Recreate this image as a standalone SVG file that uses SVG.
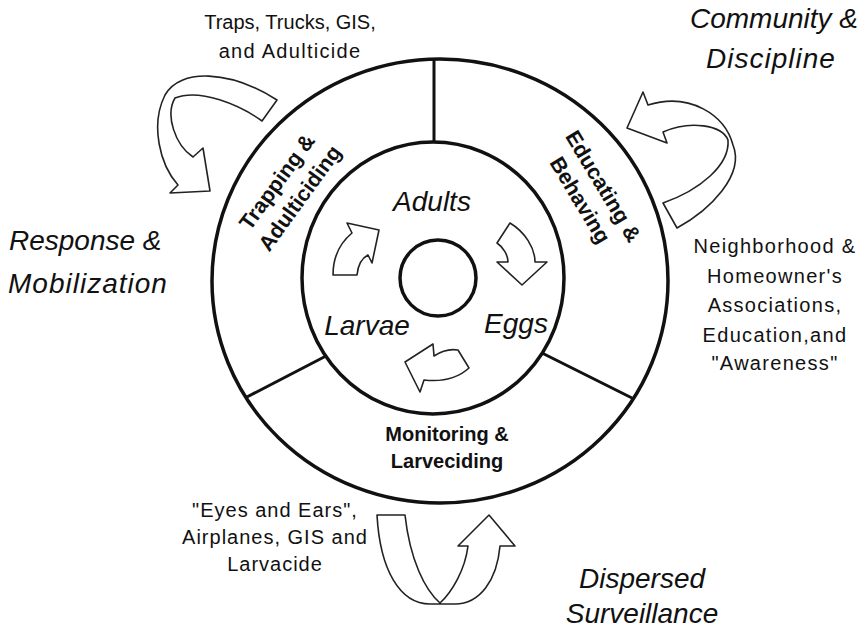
<svg xmlns="http://www.w3.org/2000/svg" width="865" height="629" viewBox="0 0 865 629">
<style>
.ring{fill:none;stroke:#111;stroke-width:3.5}
.div{stroke:#111;stroke-width:3}
.arr{fill:#fff;stroke:#222;stroke-width:1.6;stroke-linejoin:round}
.lbl{font-family:"Liberation Sans",Arial,sans-serif;font-size:20px;font-weight:bold;fill:#111;text-anchor:middle}
.rot{font-size:21.5px}
.stage{font-family:"Liberation Sans",Arial,sans-serif;font-size:28px;font-style:italic;fill:#111;text-anchor:middle}
.big{font-family:"Liberation Sans",Arial,sans-serif;font-size:28px;font-style:italic;fill:#111}
.note{font-family:"Liberation Sans",Arial,sans-serif;font-size:20px;fill:#111;text-anchor:middle;letter-spacing:1.3px}
</style>
<rect width="865" height="629" fill="#fff"/>
<g id="wheel">
<ellipse class="ring" cx="440" cy="281" rx="228" ry="222"/>
<ellipse class="ring" cx="433" cy="278" rx="131" ry="136"/>
<circle class="ring" cx="438" cy="278" r="38"/>
</g>
<g id="connectors">
<line class="div" x1="434" y1="59" x2="434" y2="142"/>
<line class="div" x1="245" y1="398" x2="326" y2="356"/>
<line class="div" x1="632" y1="398" x2="542" y2="353"/>
<path class="arr" d="M333,275 L357,275 C358,265 362,258 368,255 L372,263 L379,230 L347,223 L352,233 C340,243 333,258 333,275 Z"/>
<path class="arr" d="M510,223 C525,232 535,248 535,262 L547,262 L522,285 L497,262 L508,262 C508,255 503,247 497,243 Z"/>
<path class="arr" d="M405,362 L433,344 L434,356 C443,350 452,349 458,350 L469,368 C458,378 442,382 424,380 L420,392 Z"/>
<path class="arr" d="M277,100 L262,121 C240,105 200,88 175,98 C165,115 175,145 193,157 L203,148 L210,191 L170,193 L178,185 C160,165 150,125 165,95 C180,68 230,70 277,100 Z"/>
<path class="arr" d="M663,203 L677,228 C710,210 745,175 733,145 C725,115 690,92 648,105 L643,92 L627,128 L667,143 L663,132 C690,120 722,125 728,140 C730,165 700,190 663,203 Z"/>
<path class="arr" d="M377,515 L405,515 C410,560 425,590 440,603 C452,592 465,570 468,546 L458,546 L489,515 L515,546 L500,546 C497,580 480,604 455,604 L430,604 C400,604 380,570 377,515 Z"/>
</g>
<g id="trapping">
<g transform="translate(283,186) rotate(-54)">
<text class="lbl rot" x="0" y="0">Trapping &amp;</text>
<text class="lbl rot" x="0" y="28">Adulticiding</text>
</g>
</g>
<g id="educating">
<g transform="translate(597,190) rotate(59)">
<text class="lbl rot" x="0" y="0">Educating &amp;</text>
<text class="lbl rot" x="0" y="27">Behaving</text>
</g>
</g>
<g id="monitoring">
<text class="lbl" x="447" y="441">Monitoring &amp;</text>
<text class="lbl" x="447" y="468">Larveciding</text>
</g>
<g id="adults"><text class="stage" x="432" y="211">Adults</text></g>
<g id="larvae"><text class="stage" x="367" y="335">Larvae</text></g>
<g id="eggs"><text class="stage" x="516" y="333">Eggs</text></g>
<g id="response">
<text class="big" x="9" y="250">Response &amp;</text>
<text class="big" x="8" y="293" style="letter-spacing:1px">Mobilization</text>
</g>
<g id="community">
<text class="big" x="774" y="28" text-anchor="middle">Community &amp;</text>
<text class="big" x="771" y="68" text-anchor="middle" style="letter-spacing:1px">Discipline</text>
</g>
<g id="dispersed">
<text class="big" x="642" y="588" text-anchor="middle">Dispersed</text>
<text class="big" x="642" y="623" text-anchor="middle">Surveillance</text>
</g>
<g id="traps-note">
<text class="note" x="290" y="29" style="letter-spacing:0">Traps, Trucks, GIS,</text>
<text class="note" x="290" y="58">and Adulticide</text>
</g>
<g id="neighborhood-note">
<text class="note" x="775" y="253">Neighborhood &amp;</text>
<text class="note" x="775" y="283">Homeowner's</text>
<text class="note" x="775" y="312">Associations,</text>
<text class="note" x="775" y="342">Education,and</text>
<text class="note" x="775" y="370">"Awareness"</text>
</g>
<g id="eyes-note">
<text class="note" x="275" y="517" style="letter-spacing:1px">"Eyes and Ears",</text>
<text class="note" x="275" y="544" style="letter-spacing:1px">Airplanes, GIS and</text>
<text class="note" x="275" y="571" style="letter-spacing:1px">Larvacide</text>
</g>
</svg>
